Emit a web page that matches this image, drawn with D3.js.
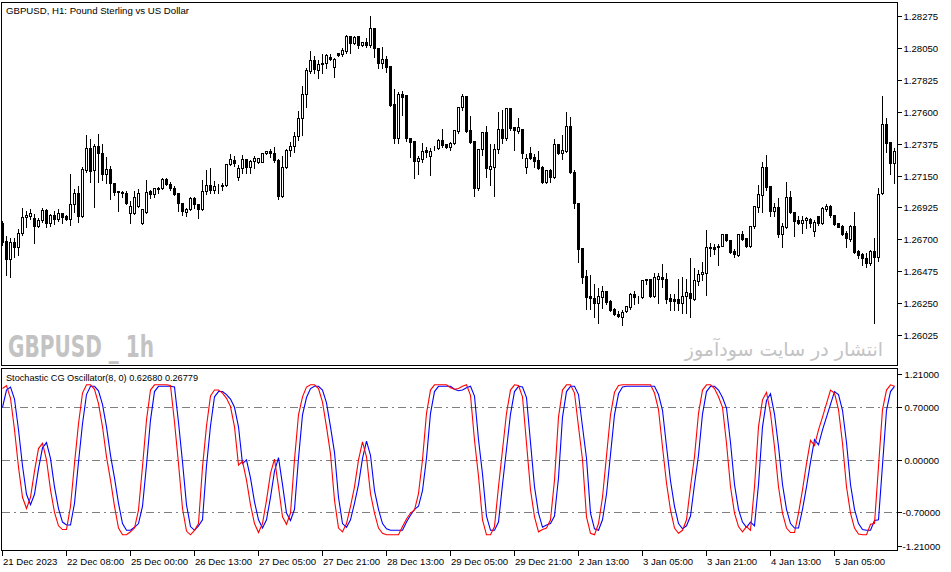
<!DOCTYPE html>
<html><head><meta charset="utf-8">
<script src="https://cdn.jsdelivr.net/npm/d3@7"></script>
<style>
body{margin:0;background:#fff}
svg{display:block}
text{font-family:"Liberation Sans",Arial,sans-serif;fill:#000}
</style>
</head><body>
<svg id="chart" width="951" height="572"></svg>
<script>
// ---------------- DATA ----------------
const open=[1.26815,1.26688,1.26561,1.26681,1.26646,1.26745,1.26858,1.26865,1.26850,1.26794,1.26836,1.26907,1.26815,1.26872,1.26843,1.26886,1.26865,1.26843,1.26949,1.27027,1.26865,1.27189,1.27344,1.27189,1.27358,1.27309,1.27161,1.27196,1.27097,1.27041,1.27034,1.27027,1.26886,1.26886,1.26935,1.26815,1.26893,1.27041,1.27020,1.27055,1.27062,1.27126,1.27090,1.27062,1.27027,1.26956,1.26893,1.26914,1.26992,1.26949,1.26914,1.27041,1.27083,1.27048,1.27076,1.27076,1.27083,1.27231,1.27260,1.27140,1.27203,1.27267,1.27210,1.27253,1.27245,1.27245,1.27309,1.27323,1.27309,1.27260,1.27006,1.27210,1.27330,1.27358,1.27429,1.27556,1.27725,1.27887,1.27965,1.27894,1.27944,1.27944,1.27986,1.27915,1.28014,1.28007,1.28028,1.28134,1.28085,1.28134,1.28071,1.28092,1.28071,1.28190,1.28049,1.27944,1.27972,1.27922,1.27654,1.27415,1.27725,1.27718,1.27415,1.27394,1.27253,1.27267,1.27330,1.27288,1.27351,1.27344,1.27401,1.27372,1.27351,1.27379,1.27464,1.27633,1.27711,1.27471,1.27394,1.27062,1.27337,1.27457,1.27196,1.27210,1.27337,1.27478,1.27415,1.27626,1.27492,1.27464,1.27478,1.27210,1.27309,1.27281,1.27260,1.27210,1.27104,1.27189,1.27140,1.27372,1.27309,1.27323,1.27499,1.27175,1.26956,1.26639,1.26441,1.26300,1.26286,1.26251,1.26293,1.26336,1.26265,1.26209,1.26173,1.26152,1.26194,1.26223,1.26314,1.26293,1.26293,1.26420,1.26420,1.26300,1.26420,1.26434,1.26420,1.26286,1.26279,1.26279,1.26251,1.26300,1.26322,1.26279,1.26406,1.26455,1.26462,1.26639,1.26646,1.26646,1.26653,1.26738,1.26695,1.26617,1.26589,1.26738,1.26709,1.26653,1.26794,1.26928,1.27013,1.27210,1.27076,1.26900,1.26928,1.26738,1.26787,1.26999,1.26893,1.26836,1.26815,1.26836,1.26843,1.26759,1.26865,1.26815,1.26914,1.26935,1.26872,1.26815,1.26794,1.26745,1.26702,1.26794,1.26617,1.26596,1.26568,1.26533,1.26617,1.26575,1.27027,1.27513,1.27387,1.27238];
const high=[1.26836,1.26730,1.26716,1.26716,1.26780,1.26928,1.26907,1.26921,1.26886,1.26858,1.26928,1.26921,1.26886,1.26907,1.26921,1.26893,1.26879,1.27168,1.27062,1.27083,1.27217,1.27443,1.27415,1.27379,1.27450,1.27379,1.27288,1.27224,1.27104,1.27041,1.27048,1.27048,1.26977,1.27048,1.27062,1.26921,1.27126,1.27055,1.27069,1.27076,1.27140,1.27140,1.27111,1.27083,1.27027,1.26956,1.26928,1.27006,1.27006,1.26956,1.27126,1.27196,1.27210,1.27118,1.27097,1.27104,1.27238,1.27309,1.27295,1.27231,1.27302,1.27274,1.27267,1.27295,1.27281,1.27316,1.27330,1.27344,1.27358,1.27274,1.27295,1.27344,1.27394,1.27464,1.27612,1.27789,1.27915,1.28035,1.28000,1.27971,1.28014,1.28014,1.28014,1.27986,1.28021,1.28056,1.28148,1.28141,1.28141,1.28134,1.28099,1.28127,1.28282,1.28198,1.28056,1.28064,1.28000,1.27922,1.27767,1.27745,1.27752,1.27718,1.27415,1.27394,1.27295,1.27387,1.27358,1.27351,1.27365,1.27415,1.27485,1.27379,1.27394,1.27478,1.27640,1.27732,1.27711,1.27577,1.27401,1.27344,1.27464,1.27506,1.27379,1.27379,1.27605,1.27619,1.27633,1.27633,1.27492,1.27563,1.27485,1.27309,1.27358,1.27309,1.27330,1.27224,1.27196,1.27203,1.27415,1.27379,1.27443,1.27605,1.27570,1.27196,1.26956,1.26639,1.26491,1.26455,1.26392,1.26364,1.26378,1.26343,1.26279,1.26223,1.26202,1.26209,1.26237,1.26328,1.26343,1.26307,1.26420,1.26420,1.26420,1.26470,1.26470,1.26533,1.26470,1.26322,1.26322,1.26427,1.26441,1.26427,1.26575,1.26505,1.26491,1.26546,1.26773,1.26681,1.26674,1.26674,1.26745,1.26745,1.26702,1.26639,1.26745,1.26766,1.26716,1.26801,1.26942,1.27090,1.27253,1.27302,1.27083,1.26963,1.26999,1.26822,1.27111,1.27048,1.26900,1.26872,1.26872,1.26865,1.26858,1.26843,1.26872,1.26935,1.26956,1.26949,1.26879,1.26822,1.26808,1.26766,1.26808,1.26900,1.26632,1.26610,1.26610,1.26632,1.26716,1.27069,1.27718,1.27563,1.27394,1.27351];
const low=[1.26660,1.26448,1.26434,1.26575,1.26590,1.26730,1.26787,1.26843,1.26674,1.26787,1.26822,1.26787,1.26794,1.26808,1.26829,1.26815,1.26836,1.26801,1.26893,1.26822,1.26858,1.27175,1.27104,1.26928,1.27104,1.27118,1.27097,1.26985,1.27013,1.26900,1.26999,1.26949,1.26815,1.26879,1.26928,1.26808,1.26886,1.26992,1.26999,1.27027,1.27055,1.27083,1.27048,1.27013,1.26900,1.26872,1.26865,1.26907,1.26921,1.26850,1.26907,1.27020,1.27027,1.27027,1.27027,1.27048,1.27076,1.27224,1.27217,1.27118,1.27168,1.27168,1.27168,1.27203,1.27238,1.27245,1.27302,1.27281,1.27245,1.26985,1.26999,1.27203,1.27288,1.27316,1.27401,1.27436,1.27633,1.27873,1.27873,1.27838,1.27873,1.27908,1.27965,1.27845,1.27993,1.27993,1.28014,1.28014,1.28078,1.28049,1.28064,1.28056,1.28056,1.27986,1.27908,1.27908,1.27880,1.27640,1.27379,1.27379,1.27577,1.27394,1.27281,1.27133,1.27161,1.27245,1.27281,1.27154,1.27330,1.27337,1.27351,1.27344,1.27330,1.27372,1.27450,1.27612,1.27457,1.27379,1.27006,1.27048,1.27295,1.27140,1.27083,1.27006,1.27309,1.27379,1.27401,1.27471,1.27330,1.27450,1.27274,1.27168,1.27267,1.27210,1.27196,1.27097,1.27097,1.27104,1.27133,1.27302,1.27267,1.27316,1.27168,1.26921,1.26540,1.26392,1.26209,1.26209,1.26152,1.26110,1.26216,1.26244,1.26194,1.26166,1.26152,1.26096,1.26187,1.26209,1.26244,1.26251,1.26286,1.26385,1.26293,1.26293,1.26251,1.26364,1.26251,1.26202,1.26202,1.26202,1.26180,1.26180,1.26152,1.26272,1.26378,1.26413,1.26307,1.26582,1.26596,1.26519,1.26653,1.26688,1.26603,1.26575,1.26582,1.26695,1.26646,1.26646,1.26780,1.26893,1.26893,1.27048,1.26865,1.26865,1.26716,1.26646,1.26780,1.26886,1.26723,1.26808,1.26745,1.26780,1.26787,1.26723,1.26801,1.26808,1.26900,1.26858,1.26801,1.26787,1.26730,1.26646,1.26688,1.26603,1.26568,1.26519,1.26505,1.26519,1.26110,1.26547,1.27020,1.27316,1.27161,1.27097];
const close=[1.26681,1.26561,1.26681,1.26646,1.26745,1.26858,1.26872,1.26886,1.26794,1.26836,1.26907,1.26815,1.26872,1.26843,1.26886,1.26858,1.26843,1.26949,1.27027,1.26865,1.27196,1.27344,1.27182,1.27358,1.27309,1.27161,1.27196,1.27097,1.27034,1.27034,1.27027,1.26956,1.26935,1.26999,1.27027,1.26914,1.27034,1.27020,1.27062,1.27062,1.27126,1.27090,1.27062,1.27020,1.26956,1.26900,1.26914,1.26992,1.26949,1.26914,1.27041,1.27083,1.27048,1.27076,1.27076,1.27083,1.27231,1.27267,1.27238,1.27203,1.27267,1.27210,1.27253,1.27274,1.27274,1.27309,1.27323,1.27309,1.27260,1.27006,1.27210,1.27330,1.27358,1.27429,1.27556,1.27725,1.27894,1.27965,1.27901,1.27937,1.27937,1.28000,1.27972,1.27971,1.28000,1.28035,1.28134,1.28085,1.28127,1.28071,1.28092,1.28071,1.28190,1.28049,1.27944,1.27972,1.27915,1.27647,1.27415,1.27725,1.27704,1.27415,1.27387,1.27253,1.27274,1.27323,1.27316,1.27323,1.27351,1.27401,1.27365,1.27351,1.27379,1.27471,1.27633,1.27711,1.27464,1.27387,1.27062,1.27337,1.27457,1.27203,1.27217,1.27337,1.27478,1.27415,1.27626,1.27485,1.27471,1.27492,1.27309,1.27274,1.27274,1.27253,1.27203,1.27104,1.27189,1.27140,1.27372,1.27309,1.27330,1.27499,1.27175,1.26956,1.26632,1.26434,1.26293,1.26286,1.26251,1.26300,1.26336,1.26258,1.26202,1.26173,1.26159,1.26187,1.26230,1.26314,1.26293,1.26293,1.26413,1.26413,1.26300,1.26434,1.26441,1.26420,1.26279,1.26265,1.26265,1.26251,1.26300,1.26328,1.26286,1.26413,1.26455,1.26470,1.26646,1.26646,1.26632,1.26653,1.26738,1.26695,1.26610,1.26596,1.26738,1.26702,1.26653,1.26794,1.26935,1.27020,1.27210,1.27069,1.26900,1.26928,1.26738,1.26794,1.26999,1.26893,1.26829,1.26815,1.26836,1.26850,1.26815,1.26822,1.26815,1.26921,1.26935,1.26872,1.26808,1.26787,1.26738,1.26709,1.26794,1.26610,1.26589,1.26568,1.26533,1.26617,1.26575,1.27020,1.27513,1.27379,1.27238,1.27323];
// Stochastic CG oscillator: main value (red) and trigger (blue)
const cgValue=[0.95,0.99,0.82,0.40,-0.10,-0.50,-0.65,-0.50,-0.15,0.15,0.22,0.00,-0.40,-0.70,-0.88,-0.93,-0.93,-0.62,-0.05,0.48,0.89,1.00,1.00,0.94,0.75,0.44,0.04,-0.27,-0.62,-0.91,-1.00,-1.00,-0.96,-0.91,-0.67,-0.09,0.53,0.93,1.00,1.00,1.00,1.00,0.99,0.50,-0.05,-0.65,-0.95,-1.00,-0.94,-0.85,-0.10,0.45,0.85,0.93,0.93,0.89,0.82,0.71,0.44,-0.07,-0.02,-0.27,-0.60,-0.85,-0.97,-0.85,-0.54,-0.18,0.01,-0.36,-0.76,-0.86,-0.71,0.00,0.60,0.84,0.97,1.00,1.00,0.95,0.77,0.44,0.08,-0.54,-0.91,-0.96,-0.85,-0.62,-0.36,0.00,0.24,0.04,-0.45,-0.71,-0.91,-0.98,-1.00,-1.00,-1.00,-1.00,-0.89,-0.79,-0.71,-0.67,-0.45,0.00,0.62,0.93,1.00,1.00,1.00,1.00,0.96,0.94,0.95,0.98,1.00,0.86,0.26,-0.22,-0.80,-1.00,-1.00,-0.89,-0.36,0.13,0.62,0.93,1.00,0.99,0.84,0.22,-0.40,-0.76,-0.96,-0.93,-0.91,-0.80,-0.27,0.57,0.93,1.00,1.00,0.89,0.44,0.00,-0.76,-0.98,-1.00,-0.85,-0.50,0.05,0.60,0.90,0.99,1.00,1.00,1.00,1.00,1.00,1.00,1.00,1.00,0.89,0.67,0.17,-0.31,-0.67,-0.91,-0.98,-0.94,-0.80,-0.36,0.04,0.62,0.93,1.00,1.00,0.95,0.84,0.70,0.22,-0.36,-0.71,-0.89,-0.96,-0.89,-0.94,-0.36,0.44,0.80,0.90,0.62,0.17,-0.36,-0.71,-0.91,-0.97,-0.97,-0.71,-0.40,-0.05,0.26,0.19,0.40,0.57,0.75,0.93,0.89,0.67,0.22,-0.36,-0.71,-0.91,-0.99,-1.00,-1.00,-0.86,-0.85,-0.09,0.67,0.93,1.00,0.98];
const cgTrigger=[0.70,0.93,0.97,0.81,0.40,-0.08,-0.46,-0.60,-0.46,-0.12,0.16,0.23,0.02,-0.36,-0.65,-0.83,-0.87,-0.87,-0.58,-0.03,0.48,0.87,0.98,0.98,0.92,0.74,0.44,0.06,-0.24,-0.58,-0.85,-0.94,-0.94,-0.90,-0.85,-0.62,-0.07,0.53,0.91,0.98,0.98,0.98,0.98,0.97,0.50,-0.03,-0.60,-0.89,-0.94,-0.88,-0.80,-0.08,0.45,0.84,0.91,0.91,0.87,0.81,0.70,0.44,-0.05,0.00,-0.24,-0.56,-0.80,-0.91,-0.80,-0.50,-0.15,0.03,-0.33,-0.71,-0.81,-0.66,0.02,0.60,0.83,0.95,0.98,0.98,0.93,0.76,0.44,0.10,-0.50,-0.85,-0.90,-0.80,-0.58,-0.33,0.02,0.25,0.06,-0.41,-0.66,-0.85,-0.92,-0.94,-0.94,-0.94,-0.94,-0.83,-0.74,-0.66,-0.62,-0.41,0.02,0.62,0.91,0.98,0.98,0.98,0.98,0.94,0.92,0.93,0.96,0.98,0.85,0.27,-0.19,-0.75,-0.94,-0.94,-0.83,-0.33,0.14,0.61,0.91,0.98,0.97,0.83,0.23,-0.36,-0.71,-0.90,-0.87,-0.85,-0.75,-0.24,0.57,0.91,0.98,0.98,0.87,0.44,0.02,-0.71,-0.92,-0.94,-0.80,-0.46,0.07,0.60,0.88,0.97,0.98,0.98,0.98,0.98,0.98,0.98,0.98,0.98,0.87,0.66,0.18,-0.28,-0.62,-0.85,-0.92,-0.88,-0.75,-0.33,0.06,0.61,0.91,0.98,0.98,0.93,0.83,0.69,0.23,-0.33,-0.66,-0.83,-0.90,-0.83,-0.88,-0.33,0.44,0.79,0.88,0.61,0.18,-0.33,-0.66,-0.85,-0.91,-0.91,-0.66,-0.36,-0.03,0.27,0.20,0.40,0.57,0.74,0.91,0.87,0.66,0.23,-0.33,-0.66,-0.85,-0.93,-0.94,-0.94,-0.81,-0.80,-0.07,0.66,0.91,0.98];
const priceTicks=[1.28275,1.28050,1.27825,1.27600,1.27375,1.27150,1.26925,1.26700,1.26475,1.26250,1.26025];
const oscTicks=[1.21,0.70,0.00,-0.70,-1.21];
const oscLevels=[0.70,0.00,-0.70];
const timeLabels=["21 Dec 2023","22 Dec 08:00","25 Dec 00:00","26 Dec 13:00","27 Dec 05:00","27 Dec 21:00","28 Dec 13:00","29 Dec 05:00","29 Dec 21:00","2 Jan 13:00","3 Jan 05:00","3 Jan 21:00","4 Jan 13:00","5 Jan 05:00"];
const timeLabelBars=[0,16,32,48,64,80,96,112,128,144,160,176,192,208];
const titleText="GBPUSD, H1:  Pound Sterling vs US Dollar";
const oscTitle="Stochastic CG Oscillator(8, 0) 0.62680 0.26779";

// ---------------- DRAW ----------------
const svg=d3.select("#chart");
const n=close.length;
const x=d3.scaleLinear().domain([0,n-1]).range([2.5,2.5+4*(n-1)]);
const y=d3.scaleLinear().domain([1.26025,1.28275]).range([335,16]);
const yo=d3.scaleLinear().domain([-1.21,1.21]).range([550.55,369.05]);
const snap=v=>Math.round(v)+0.5;

const defs=svg.append("defs");
defs.append("clipPath").attr("id","cm").append("rect").attr("x",2).attr("y",3).attr("width",895).attr("height",362);
defs.append("clipPath").attr("id","co").append("rect").attr("x",2).attr("y",369).attr("width",895).attr("height",181);

// watermarks
svg.append("text").attr("x",8).attr("y",357).attr("textLength",146).attr("lengthAdjust","spacingAndGlyphs")
  .style("font-family","'Liberation Sans Narrow','DejaVu Sans Condensed','Liberation Sans',sans-serif")
  .style("font-weight","bold").style("font-size","30px").style("fill","#c3c3c3").text("GBPUSD _ 1h");
svg.append("text").attr("x",883).attr("y",356).attr("text-anchor","start").attr("direction","rtl")
  .style("font-family","'DejaVu Sans',sans-serif").style("font-size","19px").style("fill","#c3c3c3")
  .text("انتشار در سایت سودآموز");

// candles
const g=svg.append("g").attr("clip-path","url(#cm)").attr("shape-rendering","crispEdges");
const idx=d3.range(n);
g.selectAll("line.w").data(idx).join("line").attr("class","w")
  .attr("x1",i=>x(i)).attr("x2",i=>x(i))
  .attr("y1",i=>snap(y(high[i]))).attr("y2",i=>snap(y(low[i])))
  .attr("stroke","#000").attr("stroke-width",1);
g.selectAll("rect.b").data(idx).join("rect").attr("class","b")
  .attr("x",i=>x(i)-1).attr("width",2)
  .attr("y",i=>snap(y(Math.max(open[i],close[i]))))
  .attr("height",i=>Math.round(y(Math.min(open[i],close[i])))-Math.round(y(Math.max(open[i],close[i]))))
  .attr("fill",i=>close[i]>=open[i]?"#fff":"#000")
  .attr("stroke","#000").attr("stroke-width",1);

// oscillator levels
const go=svg.append("g").attr("clip-path","url(#co)");
go.selectAll("line.lv").data(oscLevels).join("line").attr("class","lv")
  .attr("x1",2).attr("x2",897).attr("y1",d=>snap(yo(d))).attr("y2",d=>snap(yo(d)))
  .attr("stroke","#808080").attr("stroke-width",1).attr("stroke-dasharray","8,4,2,4").attr("shape-rendering","crispEdges");
const lineRed=d3.line().x((d,i)=>x(i)).y(d=>yo(d));
go.append("path").datum(cgTrigger).attr("d",lineRed).attr("fill","none").attr("stroke","#0000ff").attr("stroke-width",1.1);
go.append("path").datum(cgValue).attr("d",lineRed).attr("fill","none").attr("stroke","#ff0000").attr("stroke-width",1.1);

// frames
const fr=svg.append("g").attr("shape-rendering","crispEdges").attr("fill","none").attr("stroke","#000");
fr.append("rect").attr("x",1.5).attr("y",2.5).attr("width",896).attr("height",363);
fr.append("rect").attr("x",1.5).attr("y",368.5).attr("width",896).attr("height",182);

// price axis
const pa=svg.append("g");
pa.selectAll("line").data(priceTicks).join("line")
  .attr("x1",898).attr("x2",902).attr("y1",d=>snap(y(d))).attr("y2",d=>snap(y(d)))
  .attr("stroke","#000").attr("shape-rendering","crispEdges");
pa.selectAll("text").data(priceTicks).join("text")
  .attr("x",903.5).attr("y",d=>Math.round(y(d))+4)
  .style("font-size","9.6px").text(d=>d3.format(".5f")(d));

// oscillator axis
const oscLabelY=v=>v>1.2?373.5:(v<-1.2?545.5:yo(v));
const oa=svg.append("g");
oa.selectAll("line").data(oscTicks).join("line")
  .attr("x1",898).attr("x2",902).attr("y1",d=>snap(oscLabelY(d))).attr("y2",d=>snap(oscLabelY(d)))
  .attr("stroke","#000").attr("shape-rendering","crispEdges");
oa.selectAll("text").data(oscTicks).join("text")
  .attr("x",d=>d<0?902.5:904.5).attr("y",d=>Math.round(oscLabelY(d))+4)
  .style("font-size","9.6px").text(d=>d3.format(".5f")(d).replace("−","-"));

// time axis
const ta=svg.append("g");
ta.selectAll("line").data(timeLabelBars).join("line")
  .attr("x1",d=>x(d)).attr("x2",d=>x(d)).attr("y1",551).attr("y2",556)
  .attr("stroke","#000").attr("shape-rendering","crispEdges");
ta.selectAll("text").data(timeLabels).join("text")
  .attr("x",(d,i)=>x(timeLabelBars[i])+0.5).attr("y",564.5)
  .style("font-size","9.6px").text(d=>d);

// titles
svg.append("text").attr("x",6).attr("y",13.5).attr("textLength",183).attr("lengthAdjust","spacingAndGlyphs")
  .style("font-size","9.6px").text(titleText);
svg.append("text").attr("x",6).attr("y",380.5).attr("textLength",192).attr("lengthAdjust","spacingAndGlyphs")
  .style("font-size","9.6px").text(oscTitle);
</script>
</body></html>
